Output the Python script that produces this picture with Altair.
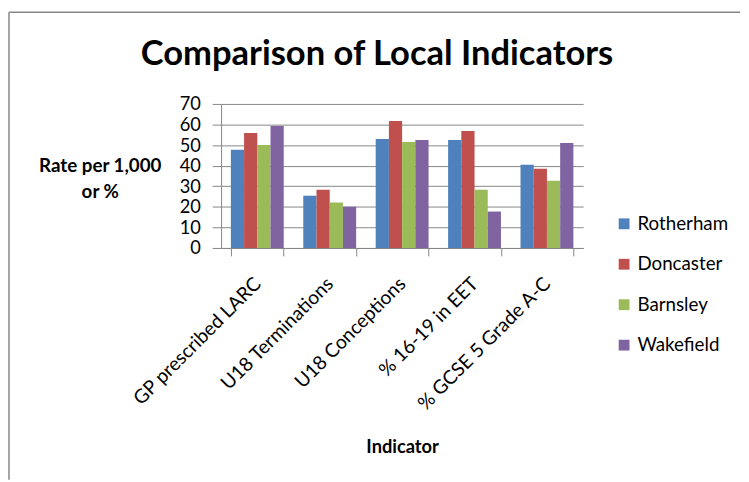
import altair as alt
import pandas as pd

TITLE = "Comparison of Local Indicators"
indicators = ["GP prescribed LARC", "U18 Terminations", "U18 Conceptions",
              "% 16-19 in EET", "% GCSE 5 Grade A-C"]
areas = ["Rotherham", "Doncaster", "Barnsley", "Wakefield"]
rotherham = [47.7, 25.4, 53.0, 52.5, 40.4]
doncaster = [55.9, 28.3, 61.7, 56.8, 38.5]
barnsley = [50.1, 22.1, 51.5, 28.3, 32.7]
wakefield = [59.3, 20.0, 52.5, 17.7, 51.0]
colors = ["#4F81BD", "#C0504D", "#9BBB59", "#8064A2"]

series = [rotherham, doncaster, barnsley, wakefield]
rows = []
for a, vals in zip(areas, series):
    for ind, v in zip(indicators, vals):
        rows.append({"Indicator": ind, "Area": a, "Value": v})
df = pd.DataFrame(rows)

FONT = "Lato"
GRAY = "#868686"

bars = alt.Chart(df).mark_bar().encode(
    x=alt.X("Indicator:N", sort=indicators,
            scale=alt.Scale(paddingInner=0.27, paddingOuter=0.135),
            axis=alt.Axis(title="Indicator", labelAngle=-45, labelAlign="right",
                          labelBaseline="middle", labelFontSize=19.5, labelPadding=25,
                          labelLimit=400,
                          labelFont=FONT, labelColor="#000", tickBand="extent",
                          tickSize=8, tickColor=GRAY, domainColor=GRAY,
                          titleFont=FONT, titleFontSize=18.5, titleFontWeight="bold",
                          titleColor="#000", titleY=201, titleBaseline="middle")),
    xOffset=alt.XOffset("Area:N", sort=areas,
                        scale=alt.Scale(paddingInner=0, paddingOuter=0)),
    y=alt.Y("Value:Q", scale=alt.Scale(domain=[0, 70], nice=False),
            axis=alt.Axis(title=["Rate per 1,000", "or %"], titleAngle=0,
                          titleX=-123, titleY=62, titleAlign="center",
                          titleBaseline="middle", titleLineHeight=27,
                          titleFont=FONT, titleFontSize=19, titleFontWeight="bold",
                          titleColor="#000", values=list(range(0, 71, 10)),
                          labelFontSize=18.5, labelFont=FONT, labelColor="#000",
                          labelPadding=12, tickSize=9, tickColor=GRAY,
                          domainColor=GRAY, gridColor=GRAY, grid=True)),
    color=alt.Color("Area:N", sort=areas,
                    scale=alt.Scale(domain=areas, range=colors),
                    legend=alt.Legend(title=None, orient="none", legendX=399,
                                      legendY=112, symbolType="square",
                                      symbolSize=120, symbolStrokeWidth=0,
                                      labelFontSize=19, labelFont=FONT,
                                      labelColor="#000", rowPadding=21,
                                      labelOffset=4, padding=0)),
)

one = pd.DataFrame({"t": [TITLE]})
title = alt.Chart(one).mark_text(font=FONT, fontSize=35, fontWeight="bold",
                                 color="#000", align="center",
                                 baseline="middle").encode(
    x=alt.value(158), y=alt.value(-50), text="t:N")

frame_left = alt.Chart(one).mark_rule(color=GRAY, strokeWidth=1.5).encode(
    x=alt.value(-215), y=alt.value(-93), y2=alt.value(381))
frame_top = alt.Chart(one).mark_rule(color=GRAY, strokeWidth=1.5).encode(
    x=alt.value(-215), x2=alt.value(526), y=alt.value(-93))

chart = alt.layer(bars, title, frame_left, frame_top).properties(
    width=367, height=146, padding=0, background="white"
).configure_view(stroke=None)

chart.save("out.html", embed_options={"renderer": "svg", "actions": False})
